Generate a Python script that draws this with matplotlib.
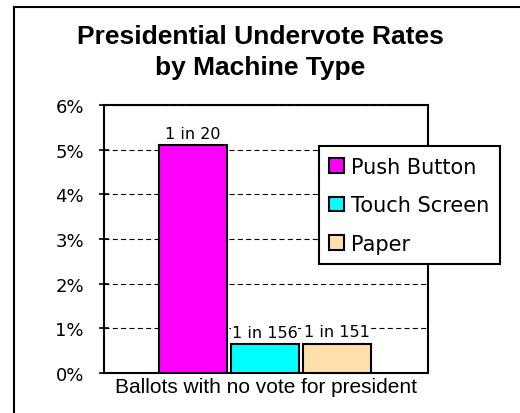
import matplotlib.pyplot as plt
from matplotlib.lines import Line2D

# chart data
machine_types = ['Push Button', 'Touch Screen', 'Paper']
undervote_pct = [5.1, 0.64, 0.66]
rate_labels = ['1 in 20', '1 in 156', '1 in 151']
bar_colors = ['#FF00FF', '#00FFFF', '#FFE0AA']
y_ticks = [0, 1, 2, 3, 4, 5, 6]
y_tick_labels = ['0%', '1%', '2%', '3%', '4%', '5%', '6%']
category = 'Ballots with no vote for president'

fig = plt.figure(figsize=(5.2, 4.14), dpi=100)
ax = fig.add_axes([0.2, 0.0966, 0.623, 0.647])

# frame around the picture (top and left edges only show)
fig.add_artist(Line2D([14 / 520, 14 / 520], [0, 1 - 7.5 / 414], color='black', lw=1.5))
fig.add_artist(Line2D([14 / 520, 1], [1 - 7.5 / 414, 1 - 7.5 / 414], color='black', lw=1.5))

fig.text(0.5, 1 - 37 / 414, 'Presidential Undervote Rates', ha='center', va='center',
         family='Liberation Sans', weight='bold', fontsize=19)
fig.text(0.5, 1 - 68 / 414, 'by Machine Type', ha='center', va='center',
         family='Liberation Sans', weight='bold', fontsize=19)

positions = [1.27 + 1.03 * i for i in range(len(machine_types))]
bars = ax.bar(positions, undervote_pct, width=0.97, color=bar_colors,
              edgecolor='black', linewidth=1.5, zorder=3)

for rect, txt in zip(bars, rate_labels):
    ax.annotate(txt, (rect.get_x() + rect.get_width() / 2, rect.get_height()),
                xytext=(0, 3), textcoords='offset points', ha='center', va='bottom',
                family='DejaVu Sans', fontsize=11.5,
                bbox=dict(facecolor='white', edgecolor='none', pad=0.5), zorder=4)

ax.set_xlim(0, 4.63)
ax.set_ylim(0, 6)
ax.set_yticks(y_ticks)
ax.set_yticklabels(y_tick_labels, family='DejaVu Sans', fontsize=13)
ax.set_xticks([])
ax.set_xlabel(category, family='Liberation Sans', fontsize=15, labelpad=3)
ax.tick_params(axis='y', direction='inout', length=7, width=1.2, pad=11)
ax.yaxis.grid(True, linestyle=(0, (4.5, 3)), color='black', lw=0.8)
ax.set_axisbelow(True)
for sp in ax.spines.values():
    sp.set_linewidth(1.5)

leg = ax.legend(bars, machine_types, loc='upper left', bbox_to_anchor=(215 / 324, 1 - 41 / 268),
                prop={'family': 'DejaVu Sans', 'size': 15}, frameon=True, fancybox=False,
                edgecolor='black', framealpha=1, handlelength=0.7, handleheight=0.7,
                handletextpad=0.35, labelspacing=0.9, borderpad=0.5, borderaxespad=0)
leg.get_frame().set_linewidth(1.5)
leg.set_zorder(5)

fig.savefig('out.png', dpi=100)
